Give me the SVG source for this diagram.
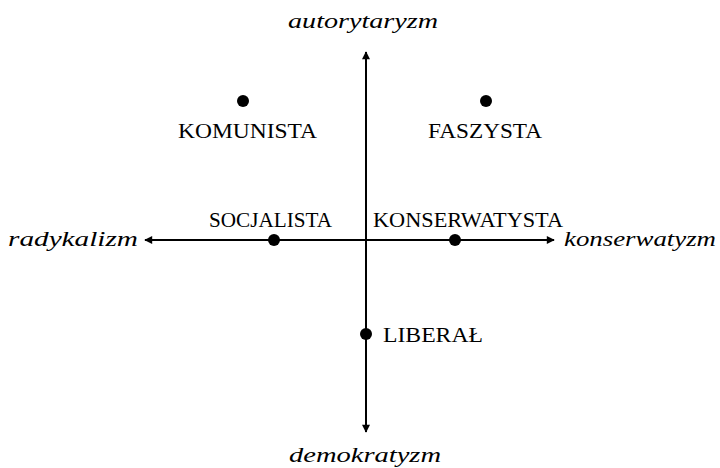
<svg xmlns="http://www.w3.org/2000/svg" width="720" height="468" viewBox="0 0 720 468">
<style>
.ax{stroke:#000;stroke-width:2;fill:none}
.lbl{font-family:"Liberation Serif","DejaVu Serif",serif;font-size:21px;fill:#000}
.it{font-family:"Liberation Serif","DejaVu Serif",serif;font-size:22px;font-style:italic;fill:#000}
.dot{fill:#000}
</style>
<defs>
<marker id="ah" viewBox="0 0 10 10" refX="9" refY="5" markerWidth="10" markerHeight="8" markerUnits="userSpaceOnUse" orient="auto">
<path d="M0,0 L10,5 L0,10 Z" fill="#000"/>
</marker>
</defs>
<rect width="720" height="468" fill="#fff"/>
<g id="connectors">
<line class="ax" x1="366" y1="240" x2="366" y2="52" marker-end="url(#ah)"/>
<line class="ax" x1="366" y1="240" x2="366" y2="432" marker-end="url(#ah)"/>
<line class="ax" x1="366" y1="240" x2="145" y2="240" marker-end="url(#ah)"/>
<line class="ax" x1="366" y1="240" x2="554" y2="240" marker-end="url(#ah)"/>
</g>
<g id="axis-top"><text class="it" x="288" y="28" textLength="150" lengthAdjust="spacingAndGlyphs">autorytaryzm</text></g>
<g id="axis-bottom"><text class="it" x="289" y="462" textLength="152" lengthAdjust="spacingAndGlyphs">demokratyzm</text></g>
<g id="axis-left"><text class="it" x="8" y="246" textLength="130" lengthAdjust="spacingAndGlyphs">radykalizm</text></g>
<g id="axis-right"><text class="it" x="564" y="246" textLength="152" lengthAdjust="spacingAndGlyphs">konserwatyzm</text></g>
<g id="komunista"><circle class="dot" cx="243" cy="101" r="6"/><text class="lbl" x="178" y="138" textLength="139" lengthAdjust="spacingAndGlyphs">KOMUNISTA</text></g>
<g id="faszysta"><circle class="dot" cx="486" cy="101" r="6"/><text class="lbl" x="428" y="138" textLength="114" lengthAdjust="spacingAndGlyphs">FASZYSTA</text></g>
<g id="socjalista"><circle class="dot" cx="274" cy="240" r="6"/><text class="lbl" x="209" y="227" textLength="123" lengthAdjust="spacingAndGlyphs">SOCJALISTA</text></g>
<g id="konserwatysta"><circle class="dot" cx="455" cy="240" r="6"/><text class="lbl" x="373" y="227" textLength="190" lengthAdjust="spacingAndGlyphs">KONSERWATYSTA</text></g>
<g id="liberal"><circle class="dot" cx="366" cy="334" r="6"/><text class="lbl" x="383" y="342" textLength="100" lengthAdjust="spacingAndGlyphs">LIBERAŁ</text></g>
</svg>
